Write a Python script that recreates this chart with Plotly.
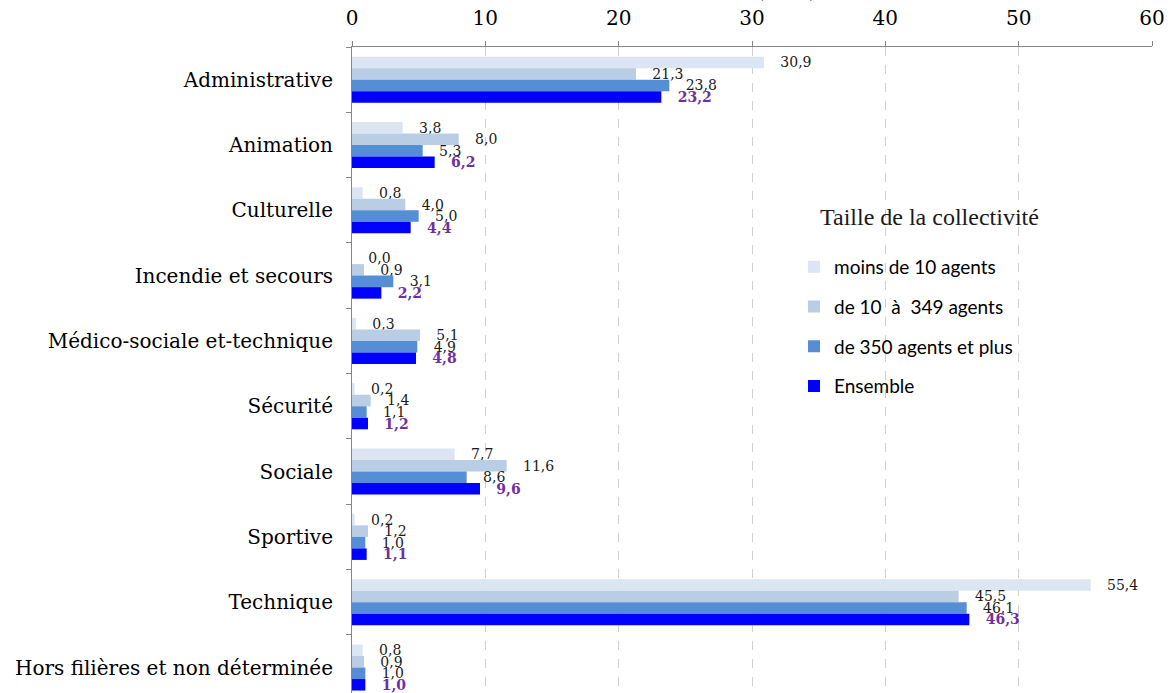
import plotly.graph_objects as go

categories = ["Administrative", "Animation", "Culturelle", "Incendie et secours",
              "Médico-sociale et-technique", "Sécurité", "Sociale", "Sportive",
              "Technique", "Hors filières et non déterminée"]
series_names = ["moins de 10 agents", "de 10  à  349 agents", "de 350 agents et plus", "Ensemble"]
moins10 = [30.9, 3.8, 0.8, 0.0, 0.3, 0.2, 7.7, 0.2, 55.4, 0.8]
de10_349 = [21.3, 8.0, 4.0, 0.9, 5.1, 1.4, 11.6, 1.2, 45.5, 0.9]
de350 = [23.8, 5.3, 5.0, 3.1, 4.9, 1.1, 8.6, 1.0, 46.1, 1.0]
ensemble = [23.2, 6.2, 4.4, 2.2, 4.8, 1.2, 9.6, 1.1, 46.3, 1.0]
x_ticks = [0, 10, 20, 30, 40, 50, 60]

colors = ["#DCE6F2", "#B9CDE5", "#558ED5", "#0000FF"]
values = [moins10, de10_349, de350, ensemble]
NB = "\u00a0"

fig = go.Figure()
for i, (name, vals, col) in enumerate(zip(series_names, values, colors)):
    last = i == 3
    labels = [f"{v:.1f}".replace(".", ",") for v in vals]
    fig.add_trace(go.Bar(
        y=categories, x=vals, name=name.replace("  ", NB + NB), orientation="h",
        marker=dict(color=col, line=dict(width=0)),
        text=[(NB * 3) + (f"<b>{t}</b>" if last else t) for t in labels],
        textposition="outside", cliponaxis=False, constraintext="none",
        textfont=dict(family="DejaVu Serif", size=14,
                      color="#7030A0" if last else "#1a1a1a"),
        legendgroup=f"g{i}",
        hoverinfo="skip",
    ))

fig.add_annotation(text="(en %)", x=(786 - 352) / 800, xref="paper", y=1.066, yref="paper",
                   xanchor="center", yanchor="bottom", showarrow=False,
                   font=dict(family="DejaVu Serif", size=18, color="#000"))

fig.update_layout(
    width=1171, height=693,
    margin=dict(l=352, r=19, t=47, b=0),
    paper_bgcolor="white", plot_bgcolor="white",
    barmode="group", bargap=0.295, bargroupgap=0,
    legend=dict(
        title=dict(text="<span style='font-size:24px'>" + NB * 4 + "Taille de la collectivité</span><br> ",
                   font=dict(family="Liberation Serif", size=18, color="#1a1a1a"),
                   side="top"),
        font=dict(family="Lato", size=19, color="#000"),
        x=(794 - 352) / 800, y=0.7614, xanchor="left", yanchor="top",
        traceorder="grouped", tracegroupgap=12,
        bgcolor="rgba(0,0,0,0)",
    ),
    xaxis=dict(
        side="top", range=[0, 60], tickvals=x_ticks,
        showline=True, linecolor="#868686", linewidth=1,
        ticks="outside", ticklen=5, tickcolor="#868686",
        showgrid=True, gridcolor="#D0D0D0", griddash="dash", gridwidth=1,
        zeroline=False, ticklabelstandoff=8,
        tickfont=dict(family="DejaVu Serif", size=20, color="#000"),
    ),
    yaxis=dict(
        type="category", range=[9.39, -0.5],
        showline=True, linecolor="#868686", linewidth=1,
        ticks="outside", ticklen=5, tickcolor="#868686", tickson="boundaries",
        showgrid=False,
        tickfont=dict(family="DejaVu Serif", size=20, color="#000"),
        ticklabelstandoff=14,
    ),
)

fig.write_html("out.html", config={"displayModeBar": False},
               post_script="document.body.style.margin='0';document.body.style.overflow='hidden';")
